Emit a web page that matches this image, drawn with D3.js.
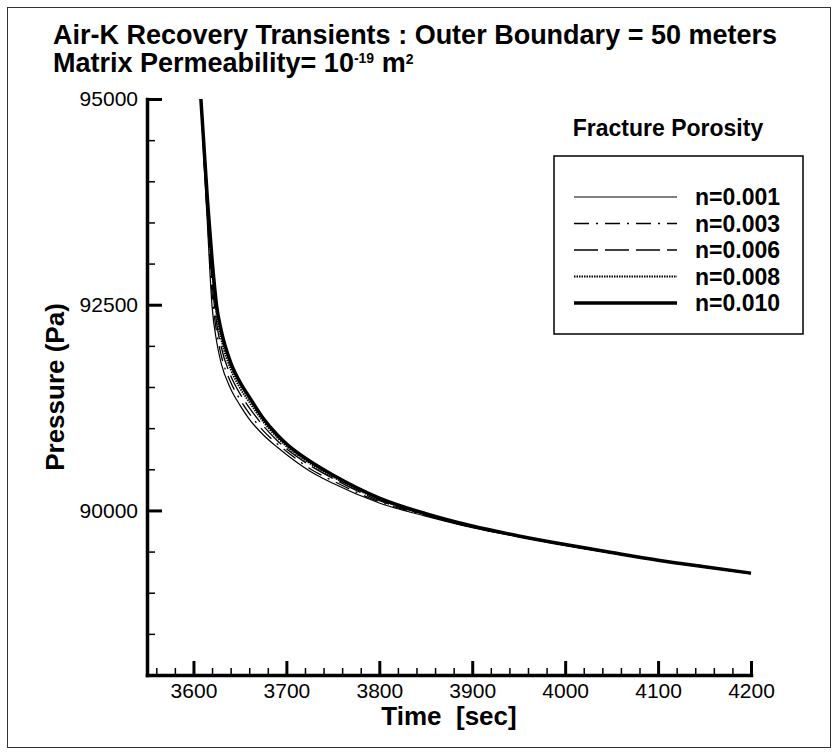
<!DOCTYPE html>
<html>
<head>
<meta charset="utf-8">
<script src="https://cdn.jsdelivr.net/npm/d3@7"></script>
<style>
  body { margin: 0; background: #fff; }
  svg { display: block; font-family: "Liberation Sans", Arial, Helvetica, sans-serif; }
</style>
</head>
<body>
<div id="chart"></div>
<script>
// time axis (sec) shared by all curves
const times = [3608, 3611, 3615, 3620, 3625, 3630, 3640, 3650, 3660, 3675, 3690, 3700,
  3725, 3750, 3800, 3850, 3900, 3950, 4000, 4050, 4100, 4150, 4200]

// pressure (Pa) for each fracture porosity
const p001 = [95000, 94300, 93480, 92480, 92050, 91780, 91480, 91280, 91110, 90920, 90770, 90680,
  90480, 90330, 90090, 89930, 89790, 89680, 89575, 89480, 89390, 89310, 89230]
const p003 = [95000, 94340, 93560, 92640, 92160, 91880, 91560, 91350, 91180, 90970, 90810, 90720,
  90510, 90360, 90105, 89940, 89795, 89683, 89578, 89482, 89391, 89311, 89232]
const p006 = [95000, 94390, 93640, 92780, 92270, 91980, 91640, 91420, 91250, 91030, 90850, 90750,
  90550, 90390, 90120, 89950, 89802, 89686, 89581, 89485, 89393, 89313, 89234]
const p008 = [95000, 94440, 93710, 92920, 92380, 92080, 91720, 91490, 91320, 91080, 90890, 90780,
  90575, 90410, 90135, 89955, 89806, 89688, 89583, 89487, 89394, 89314, 89236]
const p010 = [95000, 94480, 93780, 93050, 92480, 92180, 91800, 91560, 91380, 91120, 90920, 90810,
  90600, 90430, 90150, 89960, 89810, 89690, 89585, 89488, 89395, 89315, 89238]

const seriesNames = ['n=0.001', 'n=0.003', 'n=0.006', 'n=0.008', 'n=0.010']
const seriesValues = [p001, p003, p006, p008, p010]

const xMajorTicks = [3600, 3700, 3800, 3900, 4000, 4100, 4200]
const yMajorTicks = [90000, 92500, 95000]

const width = 839
const height = 756

const styles = {
  'n=0.001': { w: 1.2, dash: null },
  'n=0.003': { w: 1.3, dash: '15,7,2,7' },
  'n=0.006': { w: 1.3, dash: '24,7' },
  'n=0.008': { w: 2, dash: '1.5,1' },
  'n=0.010': { w: 3.5, dash: null }
}

const svg = d3.select('#chart').append('svg')
  .attr('width', width)
  .attr('height', height)

// outer frame
svg.append('rect')
  .attr('x', 7.5).attr('y', 7.5)
  .attr('width', 823).attr('height', 740)
  .attr('fill', 'none')
  .attr('stroke', '#333')
  .attr('stroke-width', 1)

const x = d3.scaleLinear().domain([3550, 4200]).range([147, 751])
const y = d3.scaleLinear().domain([88000, 95000]).range([675, 99])

// title
const title = svg.append('g').attr('font-weight', 'bold').attr('font-size', 27)
title.append('text').attr('x', 53).attr('y', 44)
  .text('Air-K Recovery Transients : Outer Boundary = 50 meters')
const t2 = title.append('text').attr('x', 53).attr('y', 72)
t2.append('tspan').text('Matrix Permeability= 10')
t2.append('tspan').attr('font-size', 14).attr('dy', -9).text('-19')
t2.append('tspan').attr('font-size', 27).attr('dy', 9).text(' m')
t2.append('tspan').attr('font-size', 14).attr('dy', -8).text('2')

// axes
const xAxis = svg.append('g')
  .attr('transform', `translate(0,${y.range()[0]})`)
  .call(d3.axisBottom(x).tickValues(xMajorTicks).tickFormat(d3.format('d'))
    .tickSizeInner(-14).tickSizeOuter(0).tickPadding(8))
xAxis.select('.domain').attr('stroke-width', 3.5)
xAxis.selectAll('.tick line').attr('stroke-width', 3)
xAxis.selectAll('.tick text').attr('font-size', 21).attr('fill', '#000')

const xMinor = svg.append('g')
  .attr('transform', `translate(0,${y.range()[0]})`)
  .call(d3.axisBottom(x).tickValues(d3.range(3560, 4200, 20).filter(d => d % 100 !== 0))
    .tickFormat('').tickSizeInner(-7).tickSizeOuter(0))
xMinor.select('.domain').remove()
xMinor.selectAll('.tick line').attr('stroke-width', 1.5)

const yAxis = svg.append('g')
  .attr('transform', `translate(${x.range()[0]},0)`)
  .call(d3.axisLeft(y).tickValues(yMajorTicks).tickFormat(d3.format('d'))
    .tickSizeInner(-15).tickSizeOuter(0).tickPadding(9))
yAxis.select('.domain').attr('stroke-width', 3.5)
yAxis.selectAll('.tick line').attr('stroke-width', 3)
yAxis.selectAll('.tick text').attr('font-size', 21).attr('fill', '#000')

const yMinor = svg.append('g')
  .attr('transform', `translate(${x.range()[0]},0)`)
  .call(d3.axisLeft(y).tickValues(d3.range(88500, 95000, 500).filter(d => d % 2500 !== 0))
    .tickFormat('').tickSizeInner(-8).tickSizeOuter(0))
yMinor.select('.domain').remove()
yMinor.selectAll('.tick line').attr('stroke-width', 1.5)

svg.selectAll('.domain').attr('stroke-linecap', 'square')

// axis titles
svg.append('text')
  .attr('x', d3.mean(x.range())).attr('y', 725)
  .attr('text-anchor', 'middle')
  .attr('font-weight', 'bold').attr('font-size', 26)
  .attr('xml:space', 'preserve')
  .text('Time  [sec]')

svg.append('text')
  .attr('transform', `translate(64,${d3.mean(y.range())}) rotate(-90)`)
  .attr('text-anchor', 'middle')
  .attr('font-weight', 'bold').attr('font-size', 26)
  .text('Pressure (Pa)')

// curves
const line = d3.line()
  .x((d, i) => x(times[i]))
  .y(d => y(d))
  .curve(d3.curveMonotoneX)

const order = [4, 3, 2, 1, 0]
order.forEach(k => {
  const st = styles[seriesNames[k]]
  svg.append('path')
    .datum(seriesValues[k])
    .attr('d', line)
    .attr('fill', 'none')
    .attr('stroke', '#000')
    .attr('stroke-width', st.w)
    .attr('stroke-dasharray', st.dash)
})

// legend
svg.append('text')
  .attr('x', 668).attr('y', 136)
  .attr('text-anchor', 'middle')
  .attr('font-weight', 'bold').attr('font-size', 23)
  .text('Fracture Porosity')

svg.append('rect')
  .attr('x', 554).attr('y', 156)
  .attr('width', 249).attr('height', 178)
  .attr('fill', 'none')
  .attr('stroke', '#000')
  .attr('stroke-width', 1.5)

const legendY = d3.scalePoint().domain(seriesNames).range([197, 303])
const items = svg.append('g').selectAll('g')
  .data(seriesNames)
  .join('g')
  .attr('transform', d => `translate(0,${legendY(d)})`)

items.append('line')
  .attr('x1', 574).attr('x2', 677)
  .attr('stroke', '#000')
  .attr('stroke-width', d => styles[d].w)
  .attr('stroke-dasharray', d => styles[d].dash)

items.append('text')
  .attr('x', 695).attr('dy', '0.35em')
  .attr('font-weight', 'bold').attr('font-size', 23)
  .text(d => d)
</script>
</body>
</html>
